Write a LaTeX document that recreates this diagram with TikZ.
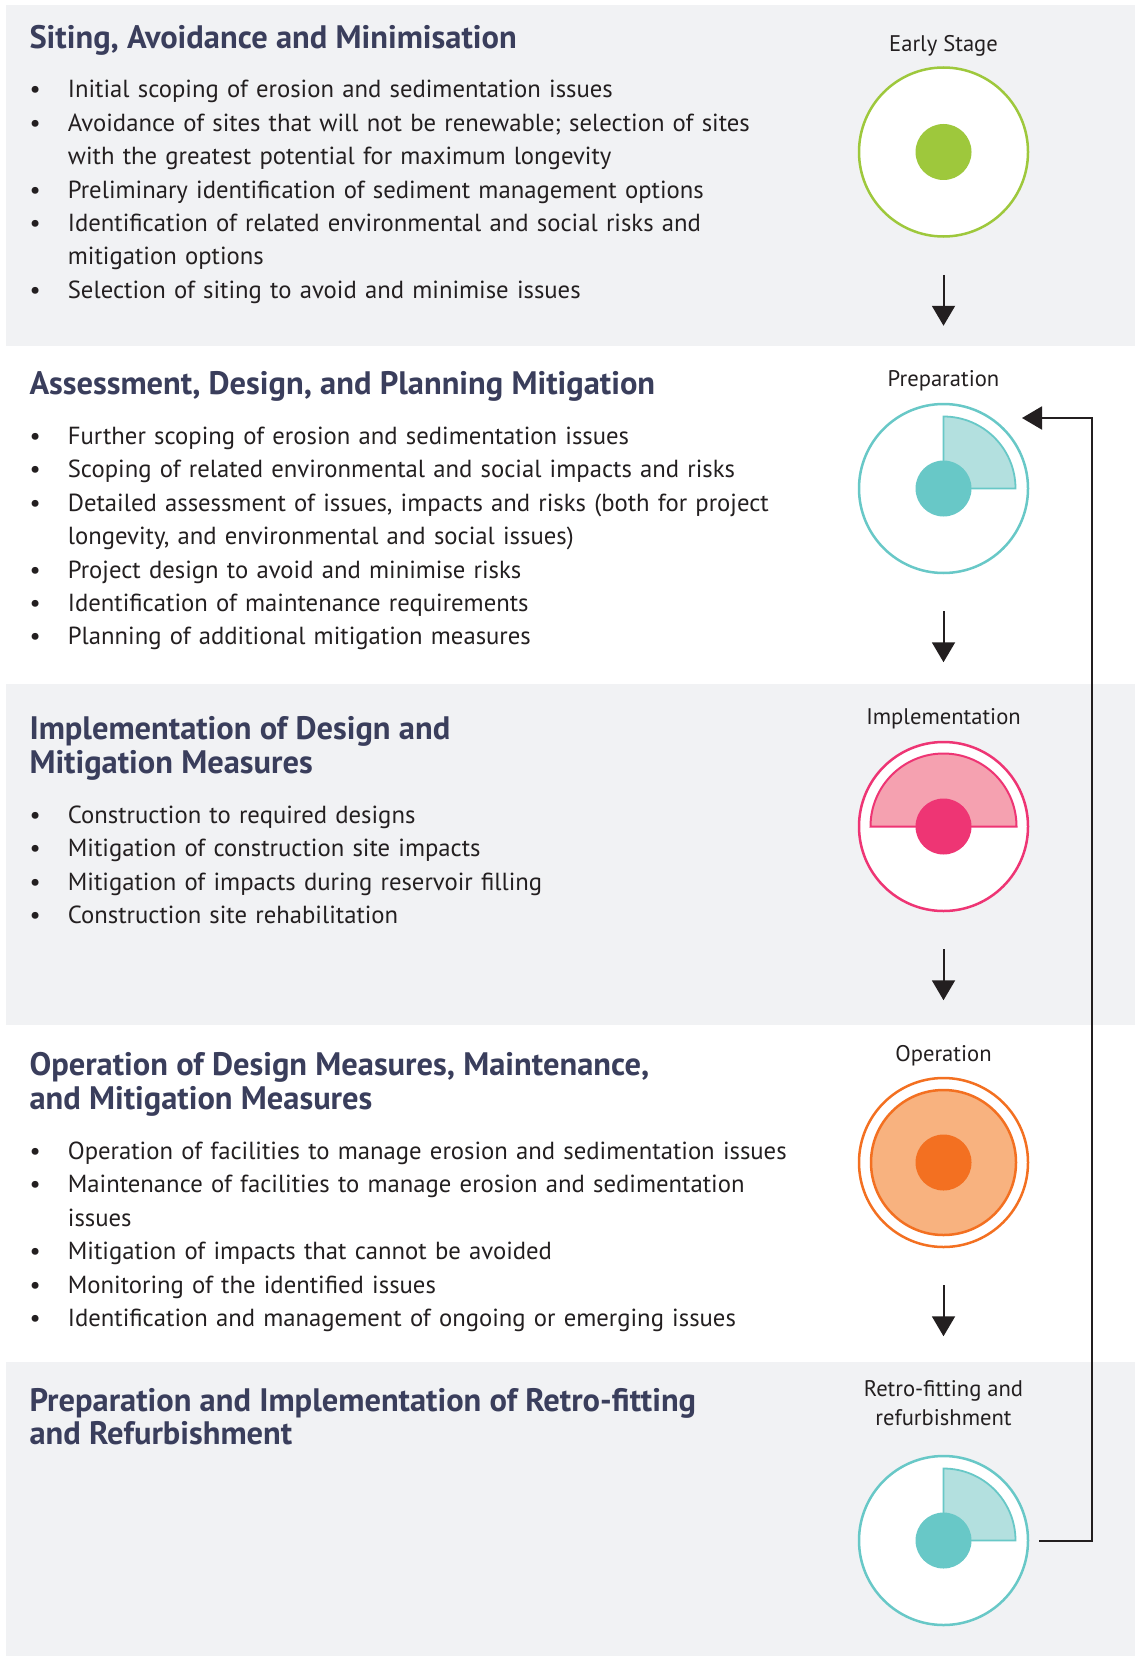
\documentclass[tikz,border=0pt]{standalone}
\usepackage{fontspec}
\setmainfont{PT Sans}
\usetikzlibrary{arrows.meta}

\definecolor{panelgray}{RGB}{241,242,244}
\definecolor{headblue}{RGB}{58,62,92}
\definecolor{textblack}{RGB}{35,31,32}
\definecolor{stgreen}{RGB}{158,200,60}
\definecolor{stteal}{RGB}{104,200,199}
\definecolor{stteallight}{RGB}{179,224,223}
\definecolor{stpink}{RGB}{238,53,116}
\definecolor{stpinklight}{RGB}{245,161,176}
\definecolor{storange}{RGB}{243,112,33}
\definecolor{storangelight}{RGB}{248,178,127}

% bullet with hanging indent
\newcommand{\bul}{\hangindent=38.4pt\hangafter=1\makebox[38.4pt][l]{\textbullet}}

\begin{document}
\begin{tikzpicture}[x=1pt,y=1pt,
  head/.style={anchor=base west,inner sep=0,align=left,text=headblue,font=\fontsize{32.5}{33.5}\selectfont\bfseries},
  items/.style={anchor=base west,inner sep=0,text width=800pt,text=textblack,font=\fontsize{24.7}{33.4}\selectfont},
  stage/.style={anchor=base,inner sep=0,align=center,text=textblack,font=\fontsize{22.6}{28.3}\selectfont},
  ring/.style={circle,inner sep=0,minimum size=169pt,fill=white,line width=2.5pt},
  down/.style={line width=2pt,textblack,-{Triangle[width=23pt,length=20pt]}}]

% panels
\fill[white] (0,0) rectangle (1135,-1656);
\fill[panelgray] (6,-5) rectangle (1135,-346);
\fill[panelgray] (6,-684) rectangle (1135,-1025);
\fill[panelgray] (6,-1362) rectangle (1135,-1656);

% siting
\node[head] (h1) at (29.3,-49) {Siting, Avoidance and Minimisation};
\node[items] (l1) at (29.3,-98) {%
\bul Initial scoping of erosion and sedimentation issues\par
\bul Avoidance of sites that will not be renewable; selection of sites\newline with the greatest potential for maximum longevity\par
\bul Preliminary identification of sediment management options\par
\bul Identification of related environmental and social risks and\newline mitigation options\par
\bul Selection of siting to avoid and minimise issues};

% assessment
\node[head] (h2) at (29.3,-394) {Assessment, Design, and Planning Mitigation};
\node[items] (l2) at (29.3,-444.5) {%
\bul Further scoping of erosion and sedimentation issues\par
\bul Scoping of related environmental and social impacts and risks\par
\bul Detailed assessment of issues, impacts and risks (both for project\newline longevity, and environmental and social issues)\par
\bul Project design to avoid and minimise risks\par
\bul Identification of maintenance requirements\par
\bul Planning of additional mitigation measures};

% implementation (two-line heads sit on their last line)
\node[head] (h3) at (29.3,-773) {Implementation of Design and\\ Mitigation Measures};
\node[items] (l3) at (29.3,-823.5) {%
\bul Construction to required designs\par
\bul Mitigation of construction site impacts\par
\bul Mitigation of impacts during reservoir filling\par
\bul Construction site rehabilitation};

% operation
\node[head] (h4) at (29.3,-1109) {Operation of Design Measures, Maintenance,\\ and Mitigation Measures};
\node[items] (l4) at (29.3,-1159.5) {%
\bul Operation of facilities to manage erosion and sedimentation issues\par
\bul Maintenance of facilities to manage erosion and sedimentation\newline issues\par
\bul Mitigation of impacts that cannot be avoided\par
\bul Monitoring of the identified issues\par
\bul Identification and management of ongoing or emerging issues};

% retro-fitting
\node[head] (h5) at (29.3,-1444.7) {Preparation and Implementation of Retro-fitting\\ and Refurbishment};

% stage icons
\node[stage] (t1) at (943.5,-51.7) {Early Stage};
\node[ring,draw=stgreen] (c1) at (943.5,-152) {};
\fill[stgreen] (c1.center) circle[radius=28];

\node[stage] (t2) at (943.5,-386.7) {Preparation};
\node[ring,draw=stteal] (c2) at (943.5,-488.5) {};
\filldraw[fill=stteallight,draw=stteal,line width=1.8pt] (c2.center) -- ++(0,72) arc[start angle=90,end angle=0,radius=72] -- cycle;
\fill[stteal] (c2.center) circle[radius=28];

\node[stage] (t3) at (943.5,-724) {Implementation};
\node[ring,draw=stpink] (c3) at (943.5,-826.5) {};
\filldraw[fill=stpinklight,draw=stpink,line width=2pt] ([xshift=-73pt]c3.center) arc[start angle=180,end angle=0,radius=73] -- cycle;
\fill[stpink] (c3.center) circle[radius=28];

\node[stage] (t4) at (943.5,-1061.7) {Operation};
\node[ring,draw=storange] (c4) at (943.5,-1162.5) {};
\filldraw[fill=storangelight,draw=storange,line width=2.5pt] (c4.center) circle[radius=72.5];
\fill[storange] (c4.center) circle[radius=28];

\node[stage] (t5) at (943.5,-1425) {Retro-fitting and\\ refurbishment};
\node[ring,draw=stteal] (c5) at (943.5,-1540.5) {};
\filldraw[fill=stteallight,draw=stteal,line width=1.8pt] (c5.center) -- ++(0,72) arc[start angle=90,end angle=0,radius=72] -- cycle;
\fill[stteal] (c5.center) circle[radius=28];

% arrows between stages
\foreach \i in {1,...,4}
  \draw[down] ([yshift=-37pt]c\i.south) -- ++(0,-51);

% back to preparation
\coordinate (back) at (1022,-418);
\draw[down] ([xshift=10pt]c5.east) -- ++(52.7,0) |- (back);

\end{tikzpicture}
\end{document}
